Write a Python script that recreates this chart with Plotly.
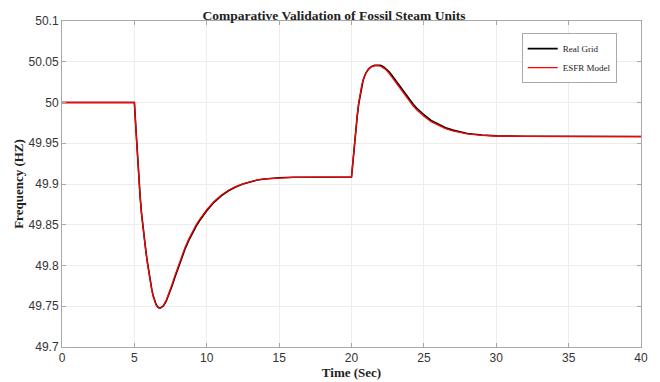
import plotly.graph_objects as go

# ---------------- data ----------------
time_s = [0, 5.0, 5.1, 5.2, 5.3, 5.4, 5.5, 5.6, 5.7, 5.8, 5.9, 6.0, 6.1, 6.2, 6.3,
          6.4, 6.5, 6.6, 6.7, 6.8, 7.0, 7.2, 7.4, 7.6, 7.8, 8.0, 8.25, 8.5, 8.75,
          9.0, 9.25, 9.5, 9.75, 10.0, 10.5, 11.0, 11.5, 12.0, 12.5, 13.0, 13.5,
          14.0, 15.0, 16.0, 18.0, 20.0, 20.1, 20.2, 20.3, 20.4, 20.5, 20.6, 20.7,
          20.8, 20.9, 21.0, 21.2, 21.4, 21.6, 21.8, 22.0, 22.2, 22.4, 22.6, 22.8,
          23.0, 23.25, 23.5, 23.75, 24.0, 24.25, 24.5, 24.75, 25.0, 25.5, 26.0,
          26.5, 27.0, 27.5, 28.0, 29.0, 30.0, 32.0, 35.0, 40.0]

esfr_model = [50.0, 50.0, 49.969, 49.938, 49.908, 49.883, 49.862, 49.845, 49.830,
              49.816, 49.803, 49.791, 49.780, 49.770, 49.762, 49.756, 49.7515,
              49.7488, 49.7476, 49.7477, 49.7507, 49.7571, 49.7661, 49.7766,
              49.7876, 49.7983, 49.8108, 49.8222, 49.8323, 49.8413, 49.8493,
              49.8564, 49.8628, 49.8684, 49.8785, 49.8862, 49.8923, 49.8968,
              49.9002, 49.9030, 49.9050, 49.9063, 49.9077, 49.9082, 49.9085,
              49.9085, 49.928, 49.950, 49.968, 49.985, 49.9995, 50.011, 50.0205,
              50.0275, 50.0325, 50.0365, 50.0415, 50.0440, 50.0452, 50.0455,
              50.0448, 50.0428, 50.0398, 50.0358, 50.0310, 50.0258, 50.0195,
              50.0130, 50.0068, 50.0010, 49.9958, 49.9910, 49.9868, 49.9830,
              49.9765, 49.9718, 49.9680, 49.9652, 49.9630, 49.9614, 49.9597,
              49.9589, 49.9584, 49.9582, 49.9582]

real_grid = [50.0, 50.0, 49.970, 49.939, 49.909, 49.884, 49.863, 49.846, 49.831,
             49.817, 49.804, 49.792, 49.781, 49.771, 49.763, 49.757, 49.7522,
             49.7494, 49.7481, 49.7480, 49.7505, 49.7564, 49.7648, 49.7749,
             49.7857, 49.7963, 49.8088, 49.8202, 49.8304, 49.8395, 49.8477,
             49.8549, 49.8614, 49.8672, 49.8775, 49.8854, 49.8917, 49.8964,
             49.8999, 49.9028, 49.9049, 49.9062, 49.9077, 49.9082, 49.9085,
             49.9085, 49.927, 49.949, 49.967, 49.984, 49.9985, 50.010, 50.0198,
             50.0270, 50.0322, 50.0363, 50.0415, 50.0442, 50.0455, 50.0460,
             50.0456, 50.0440, 50.0413, 50.0376, 50.0330, 50.0280, 50.0218,
             50.0155, 50.0093, 50.0035, 49.9982, 49.9933, 49.9889, 49.9850,
             49.9781, 49.9731, 49.9691, 49.9661, 49.9637, 49.9620, 49.9601,
             49.9591, 49.9585, 49.9582, 49.9582]

x_ticks = [0, 5, 10, 15, 20, 25, 30, 35, 40]
y_ticks = [49.7, 49.75, 49.8, 49.85, 49.9, 49.95, 50.0, 50.05, 50.1]
y_tick_labels = ["49.7", "49.75", "49.8", "49.85", "49.9", "49.95", "50", "50.05", "50.1"]

# ---------------- figure ----------------
fig = go.Figure()
fig.add_trace(go.Scatter(x=time_s, y=real_grid, mode="lines", name="Real Grid",
                         line=dict(color="#000000", width=1.6)))
fig.add_trace(go.Scatter(x=time_s, y=esfr_model, mode="lines", name="ESFR Model",
                         line=dict(color="#ff0000", width=1.3)))

axis_common = dict(showgrid=True, gridcolor="#ececec", gridwidth=1, automargin=False,
                   showline=True, linecolor="#a8a8a8", linewidth=1, mirror="ticks",
                   ticks="inside", ticklen=4, tickcolor="#a8a8a8", zeroline=False,
                   tickfont=dict(family="Liberation Sans, Arial", size=12, color="#333333"))

fig.update_xaxes(range=[0, 40], tickvals=x_ticks, **axis_common,
                 title=dict(text="<b>Time (Sec)</b>", standoff=3,
                            font=dict(family="Liberation Serif, Times New Roman", size=13, color="#222222")))
fig.update_yaxes(range=[49.7, 50.1], tickvals=y_ticks, ticktext=y_tick_labels, **axis_common,
                 title=dict(text="<b>Frequency (HZ)</b>", standoff=2,
                            font=dict(family="Liberation Serif, Times New Roman", size=13, color="#222222")))

# the page body adds an 8 px offset, so the figure is 8 px smaller and margins shifted
fig.update_layout(
    width=652, height=374,
    margin=dict(l=54, r=19, t=13, b=35),
    paper_bgcolor="white", plot_bgcolor="white",
    title=dict(text="<b>Comparative Validation of Fossil Steam Units</b>",
               x=0.5, xanchor="center", y=0.992, yanchor="top",
               font=dict(family="Liberation Serif, Times New Roman", size=13.5, color="#222222")),
    legend=dict(x=0.876, y=0.886, xanchor="center", yanchor="middle",
                bgcolor="white", bordercolor="#a8a8a8", borderwidth=1,
                font=dict(family="Liberation Serif, Times New Roman", size=9, color="#222222"),
                tracegroupgap=0, itemwidth=30),
    showlegend=True,
)

fig.write_html("out.html")
